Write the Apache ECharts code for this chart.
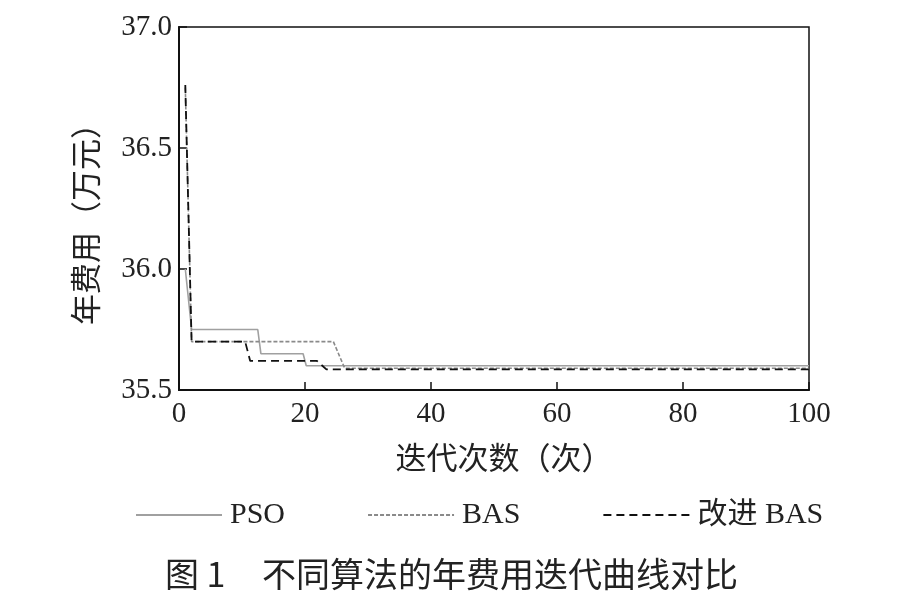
<!DOCTYPE html>
<html>
<head>
<meta charset="utf-8">
<script src="https://cdn.jsdelivr.net/npm/echarts@6/dist/echarts.min.js"></script>
<style>html,body{margin:0;padding:0;background:#fff;}#c{width:920px;height:597px;}</style>
</head>
<body>
<div id="c"></div>
<script>
// Data: [iteration, annual cost (10k yuan)]
const psoIter   = [1, 2, 12.5, 13, 19.7, 20.2, 100];
const psoCost   = [36.0, 35.75, 35.75, 35.65, 35.65, 35.60, 35.60];
const basIter   = [1, 2, 24.5, 26.3, 100];
const basCost   = [36.75, 35.70, 35.70, 35.59, 35.59];
const ibasIter  = [1, 2, 10.5, 11.3, 21.9, 23.4, 100];
const ibasCost  = [36.76, 35.70, 35.70, 35.62, 35.62, 35.585, 35.585];
const seriesNames = ['PSO', 'BAS', '改进 BAS'];
const xTicks = [0, 20, 40, 60, 80, 100];
const yTicks = [35.5, 36.0, 36.5, 37.0];
const titleNum = '图 1';
const titleText = '不同算法的年费用迭代曲线对比';

const pair = (xs, ys) => xs.map((x, i) => [x, ys[i]]);
const serif = '"Liberation Serif","Times New Roman",serif';
const cjk = '"Liberation Serif","Noto Sans CJK SC",serif';

const chart = echarts.init(document.getElementById('c'));
chart.setOption({
  animation: false,
  backgroundColor: '#fff',
  grid: { left: 179, right: 111, top: 27, bottom: 207, show: true, borderColor: '#111', borderWidth: 1.5 },
  xAxis: {
    type: 'value', min: xTicks[0], max: xTicks[xTicks.length - 1], interval: 20,
    name: '迭代次数（次）', nameLocation: 'middle', nameGap: 55,
    nameTextStyle: { fontFamily: cjk, fontSize: 31, color: '#222', padding: [0, 0, 0, 20] },
    axisLine: { lineStyle: { color: '#111', width: 2 } },
    axisTick: { inside: true, length: 8, lineStyle: { color: '#111', width: 1.5 } },
    axisLabel: { fontFamily: serif, fontSize: 29, color: '#222', margin: 10 },
    splitLine: { show: false }
  },
  yAxis: {
    type: 'value', min: yTicks[0], max: yTicks[yTicks.length - 1], interval: 0.5,
    name: '年费用（万元）', nameLocation: 'middle', nameGap: 75, nameRotate: 90,
    nameTextStyle: { fontFamily: cjk, fontSize: 31, color: '#222', padding: [0, 16, 0, 0] },
    axisLine: { show: true, lineStyle: { color: '#111', width: 2 } },
    axisTick: { show: true, inside: true, length: 8, lineStyle: { color: '#111', width: 1.5 } },
    axisLabel: { fontFamily: serif, fontSize: 29, color: '#222', margin: 7, formatter: v => v.toFixed(1) },
    splitLine: { show: false }
  },
  legend: {
    left: 130, top: 495, itemWidth: 86, itemHeight: 14, itemGap: 82,
    itemStyle: { opacity: 0 },
    textStyle: { fontFamily: cjk, fontSize: 30, color: '#222', padding: [0, 0, 0, 3] },
    data: seriesNames
  },
  series: [
    { name: seriesNames[0], type: 'line', symbol: 'none', data: pair(psoIter, psoCost),
      lineStyle: { color: '#a0a0a0', width: 1.6, type: 'solid' }, itemStyle: { color: '#a0a0a0' } },
    { name: seriesNames[1], type: 'line', symbol: 'none', data: pair(basIter, basCost),
      lineStyle: { color: '#8a8a8a', width: 1.6, type: [4, 2] }, itemStyle: { color: '#8a8a8a' } },
    { name: seriesNames[2], type: 'line', symbol: 'none', data: pair(ibasIter, ibasCost),
      lineStyle: { color: '#111', width: 1.8, type: [8, 5] }, itemStyle: { color: '#111' } }
  ],
  graphic: [
    { type: 'text', left: 165, top: 557,
      style: { text: titleNum, font: '34px "Noto Sans CJK SC", serif', fill: '#222' } },
    { type: 'text', left: 262, top: 557,
      style: { text: titleText, font: '34px "Noto Sans CJK SC", serif', fill: '#222' } }
  ]
});
</script>
</body>
</html>
